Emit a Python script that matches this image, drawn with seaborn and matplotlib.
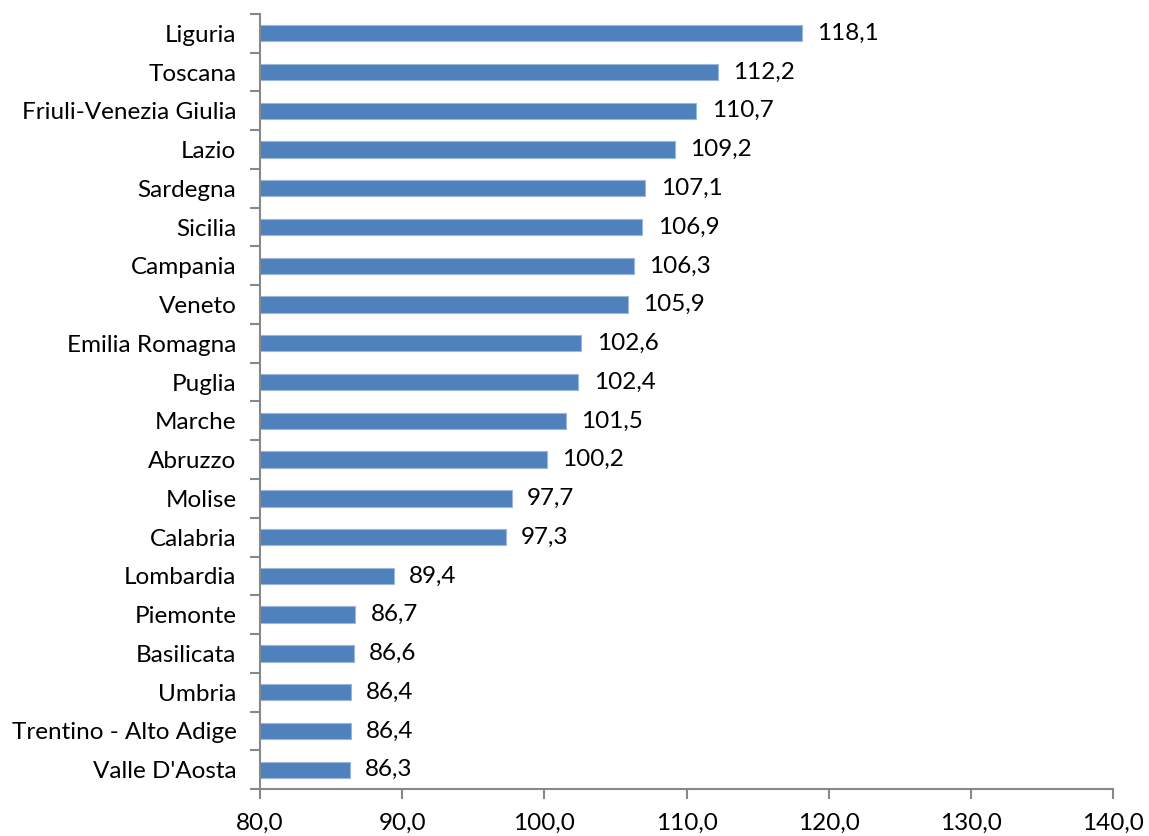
import matplotlib
matplotlib.use("Agg")
import matplotlib.pyplot as plt
import seaborn as sns
import numpy as np
import pandas as pd
from matplotlib.ticker import FixedLocator, FuncFormatter

regions = ["Liguria", "Toscana", "Friuli-Venezia Giulia", "Lazio", "Sardegna",
           "Sicilia", "Campania", "Veneto", "Emilia Romagna", "Puglia",
           "Marche", "Abruzzo", "Molise", "Calabria", "Lombardia",
           "Piemonte", "Basilicata", "Umbria", "Trentino - Alto Adige", "Valle D'Aosta"]
values = [118.1, 112.2, 110.7, 109.2, 107.1,
          106.9, 106.3, 105.9, 102.6, 102.4,
          101.5, 100.2, 97.7, 97.3, 89.4,
          86.7, 86.6, 86.4, 86.4, 86.3]
x_ticks = [80, 90, 100, 110, 120, 130, 140]

df = pd.DataFrame({"regione": regions, "valore": values})

sns.set_theme(style="white")
plt.rcParams['font.family'] = ['Lato', 'DejaVu Sans']

fig = plt.figure(figsize=(11.49, 8.36), dpi=100)
ax = fig.add_axes([0.2263, 0.0562, 0.7424, 0.9271])

sns.barplot(data=df, x="valore", y="regione", orient="h", color="#4F81BD",
            width=0.42, edgecolor="#9DB7DC", linewidth=0.8, saturation=1, ax=ax)

ax.set_xlim(80, 140)
ax.set_ylim(len(regions) - 0.5, -0.5)
ax.set_xticks(x_ticks)
ax.xaxis.set_major_formatter(FuncFormatter(lambda v, p: f"{v:.1f}".replace(".", ",")))
ax.set_xlabel("")
ax.set_ylabel("")

# category boundary ticks on the y axis (Excel style)
ax.yaxis.set_minor_locator(FixedLocator(np.arange(-0.5, len(regions), 1.0)))
ax.tick_params(axis="y", which="major", length=0, pad=17, labelsize=17.5, labelcolor="black")
ax.tick_params(axis="y", which="minor", length=7, width=1.5, color="#888888", direction="out", left=True)
ax.tick_params(axis="x", which="major", length=7, width=1.5, color="#888888", direction="out",
               bottom=True, labelsize=17.5, labelcolor="black", pad=10)

for side in ["top", "right"]:
    ax.spines[side].set_visible(False)
for side in ["left", "bottom"]:
    ax.spines[side].set_color("#888888")
    ax.spines[side].set_linewidth(1.5)

ax.bar_label(ax.containers[0], labels=[f"{v:.1f}".replace(".", ",") for v in values],
             padding=11, fontsize=17.5, color="black")

fig.savefig("out.png", dpi=100)
